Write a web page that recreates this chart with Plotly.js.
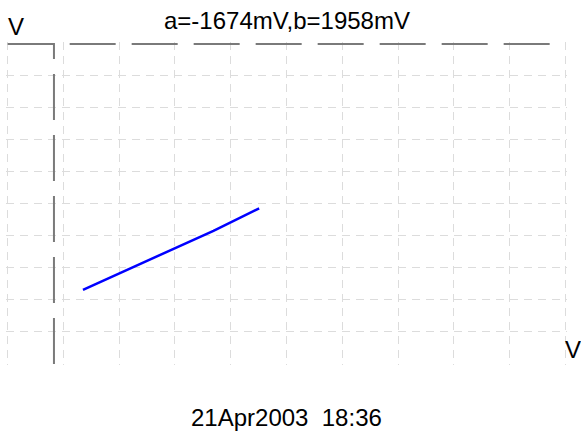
<!DOCTYPE html>
<html>
<head>
<meta charset="utf-8">
<script src="https://cdn.plot.ly/plotly-3.0.1.min.js"></script>
<style>html,body{margin:0;padding:0;background:#fff;}#chart{width:581px;height:432px;}</style>
</head>
<body>
<div id="chart"></div>
<script>
// Trace (blue) readings, screen divisions (0..10)
const traceX = [1.35, 2.01, 2.97, 3.69, 4.51];
const traceY = [2.31, 2.83, 3.57, 4.15, 4.85];
// Cursor / marker lines
const cursorVX = [0.83, 0.83];
const cursorVY = [0, 10];
const cursorHX = [0, 10];
const cursorHY = [9.97, 9.97];
// Text
const titleText = 'a=-1674mV,b=1958mV';
const yUnit = 'V';
const xUnit = 'V';
const stampText = '21Apr2003  18:36';

const fontFam = 'Liberation Sans, Arial, sans-serif';

const data = [
  {x: cursorVX, y: cursorVY, mode: 'lines', line: {color: '#7a7a7a', width: 2, dash: '46px,15px'}, hoverinfo: 'skip'},
  {x: cursorHX, y: cursorHY, mode: 'lines', line: {color: '#7a7a7a', width: 2, dash: '46px,16px'}, hoverinfo: 'skip'},
  {x: traceX, y: traceY, mode: 'lines', line: {color: '#0000ff', width: 2.5}, hoverinfo: 'skip'}
];

const axisCommon = {
  showgrid: true, gridcolor: '#dcdcdc', gridwidth: 1, griddash: '8px,6px',
  zeroline: false, showline: false, showticklabels: false, ticks: '',
  dtick: 1, tick0: 0, fixedrange: true
};

const layout = {
  width: 581, height: 432,
  margin: {l: 6, r: 14, t: 42, b: 67},
  paper_bgcolor: '#fff', plot_bgcolor: '#fff',
  showlegend: false,
  font: {family: fontFam, size: 24, color: '#000'},
  xaxis: Object.assign({range: [-0.03, 10.03]}, axisCommon),
  yaxis: Object.assign({range: [-0.03, 10.03]}, axisCommon),
  annotations: [
    {text: titleText, xref: 'paper', yref: 'paper', x: 0.5, y: 1.0666, xanchor: 'center', yanchor: 'middle', showarrow: false, font: {family: fontFam, size: 24}},
    {text: yUnit, xref: 'paper', yref: 'paper', x: 0, y: 1.0466, xanchor: 'left', yanchor: 'middle', showarrow: false, font: {family: fontFam, size: 24}},
    {text: xUnit, xref: 'paper', yref: 'paper', x: 0.9929, y: 0.0467, xanchor: 'left', yanchor: 'middle', showarrow: false, font: {family: fontFam, size: 24}},
    {text: stampText, xref: 'paper', yref: 'paper', x: 0.4995, y: -0.1628, xanchor: 'center', yanchor: 'middle', showarrow: false, font: {family: fontFam, size: 24}}
  ]
};

Plotly.newPlot('chart', data, layout, {staticPlot: true, displayModeBar: false});
</script>
</body>
</html>
